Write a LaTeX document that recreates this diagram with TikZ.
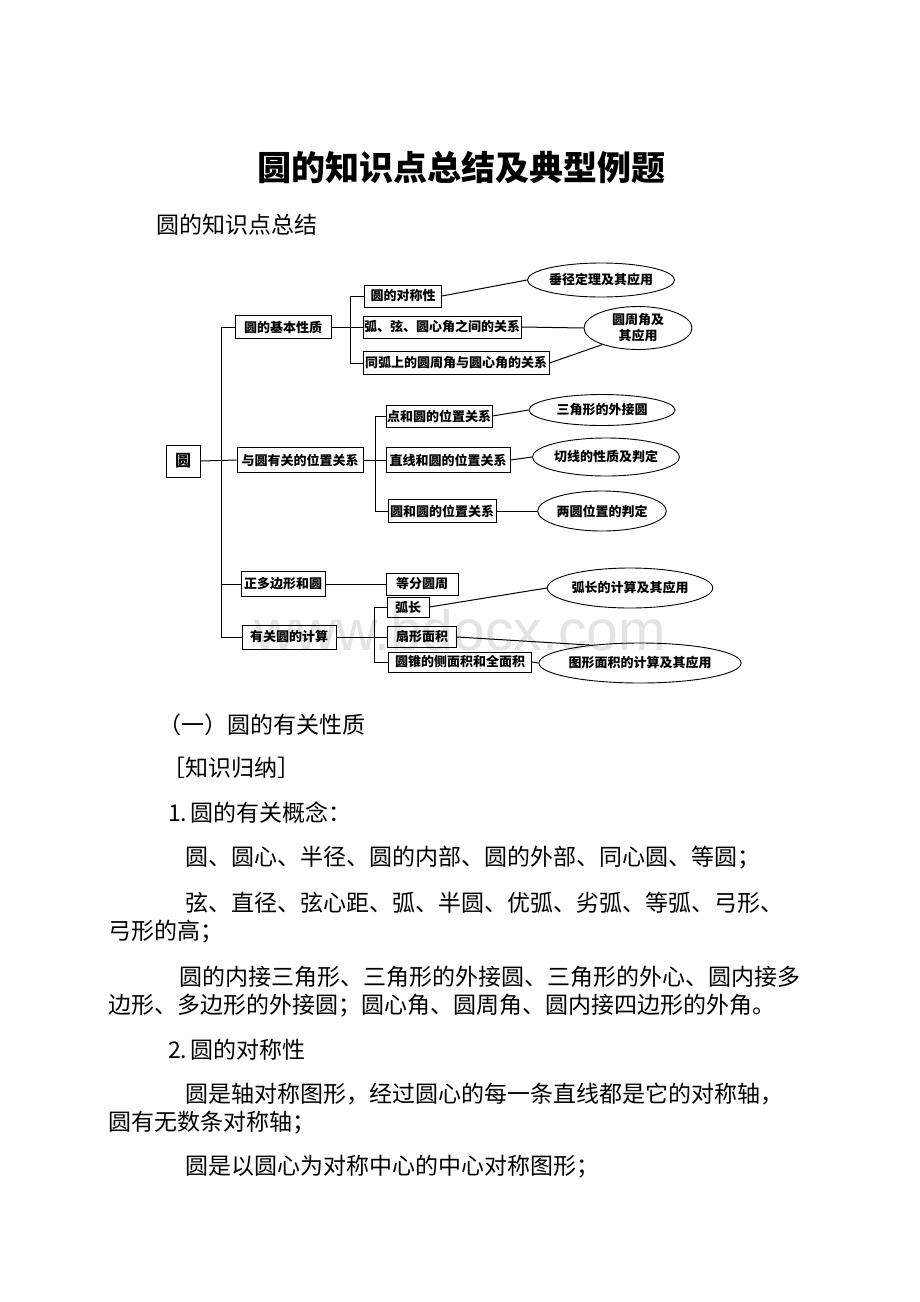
\documentclass[tikz,border=0pt]{standalone}
\usepackage{fontspec}
\setmainfont{Liberation Serif}
\newfontfamily\cjk{Noto Sans CJK SC}
\newfontfamily\wmfont{Liberation Sans}
\usetikzlibrary{shapes.geometric}
\tikzset{
  box/.style={draw, line width=1pt, inner sep=0pt, font=\cjk\bfseries\fontsize{13}{14}\selectfont},
  oval/.style={draw, ellipse, line width=0.9pt, inner sep=0pt, align=center, font=\cjk\bfseries\fontsize{13}{16}\selectfont},
  ln/.style={line width=1pt},
  body/.style={anchor=west, inner sep=0pt, font=\cjk\fontsize{23}{26}\selectfont},
}
\begin{document}
\begin{tikzpicture}[x=1pt,y=-1pt]
\path[fill=white,use as bounding box] (0,0) rectangle (920,1302);
% watermark
\node[font=\wmfont\fontsize{57}{60}\selectfont, text=black!11, inner sep=0pt] (wm) at (460,630) {www.bdocx.com};
% title
\node[font=\cjk\bfseries\fontsize{34}{40}\selectfont, inner sep=0pt] (title) at (461,168) {圆的知识点总结及典型例题};
\node[body] (sub) at (156,225) {圆的知识点总结};
% root
\node[box, minimum width=34, minimum height=32, font=\cjk\bfseries\fontsize{16}{18}\selectfont] (root) at (183,461) {圆};
% level 1
\node[box, minimum width=96, minimum height=23] (b1) at (283,327) {圆的基本性质};
\node[box, minimum width=126, minimum height=25] (b2) at (300,460) {与圆有关的位置关系};
\node[box, minimum width=84, minimum height=25] (b3) at (283,584) {正多边形和圆};
\node[box, minimum width=94, minimum height=24] (b4) at (289,637) {有关圆的计算};
\coordinate (t0) at (221,327);
\coordinate (t1) at (221,637);
\draw[ln] (b1.west) -- (t0) -- (t1) -- (b4.west);
\draw[ln] (root.east) -- (b2.west);
\draw[ln] (b3.west) -- (b3.west -| t0);
% group 1
\node[box, minimum width=77, minimum height=22] (c11) at (403,296) {圆的对称性};
\node[box, minimum width=158, minimum height=22] (c12) at (442,327) {弧、弦、圆心角之间的关系};
\node[box, minimum width=186, minimum height=23] (c13) at (456,363) {同弧上的圆周角与圆心角的关系};
\coordinate (j1) at (350,327);
\draw[ln] (b1.east) -- (c12.west);
\draw[ln] (c11.west) -- (c11.west -| j1) -- (c13.west -| j1) -- (c13.west);
\node[oval, minimum width=144, minimum height=34] (e11) at (601,280) {垂径定理及其应用};
\node[oval, minimum width=108, minimum height=43] (e12) at (638,328) {圆周角及\\其应用};
\draw[ln] (c11.east) -- (e11.west);
\draw[ln] (c12.east) -- (e12.west);
\draw[ln] (c13.east) -- (e12.205);
% group 2
\node[box, minimum width=106, minimum height=22] (d21) at (439,416) {点和圆的位置关系};
\node[box, minimum width=124, minimum height=25] (d22) at (448,460) {直线和圆的位置关系};
\node[box, minimum width=108, minimum height=23] (d23) at (442,511) {圆和圆的位置关系};
\coordinate (j2) at (375,460);
\draw[ln] (b2.east) -- (d22.west);
\draw[ln] (d21.west) -- (d21.west -| j2) -- (d23.west -| j2) -- (d23.west);
\node[oval, minimum width=146, minimum height=31] (f21) at (602,410) {三角形的外接圆};
\node[oval, minimum width=136, minimum height=38] (f22) at (606,457) {切线的性质及判定};
\node[oval, minimum width=127, minimum height=40] (f23) at (602,511) {两圆位置的判定};
\draw[ln] (d21.east) -- (f21.west);
\draw[ln] (d22.east) -- (f22.west);
\draw[ln] (d23.east) -- (f23.west);
% group 3
\node[box, minimum width=72, minimum height=22] (g31) at (422,584) {等分圆周};
\draw[ln] (b3.east) -- (g31.west);
% group 4
\node[box, minimum width=42, minimum height=20] (h41) at (408,607) {弧长};
\node[box, minimum width=69, minimum height=21] (h42) at (422,637) {扇形面积};
\node[box, minimum width=143, minimum height=20] (h43) at (460,662) {圆锥的侧面积和全面积};
\coordinate (j4) at (374,637);
\draw[ln] (b4.east) -- (h42.west);
\draw[ln] (h41.west) -- (h41.west -| j4) -- (h43.west -| j4) -- (h43.west);
\node[oval, minimum width=138, minimum height=40] (k41) at (630,588) {弧长的计算及其应用};
\node[oval, minimum width=155, minimum height=40] (k42) at (640,663) {图形面积的计算及其应用};
\draw[ln] (h41.east) -- (k41.west);
\draw[ln] (h42.east) -- (k42.160);
\draw[ln] (h43.east) -- (k42.west);
% body text
\node[body] (p1) at (158,725) {（一）圆的有关性质};
\node[body] (p2) at (162,768) {［知识归纳］};
\node[body] (p3) at (168,813) {1.\hspace{3pt}{\cjk 圆的有关概念：}};
\node[body] (p4) at (185,858) {圆、圆心、半径、圆的内部、圆的外部、同心圆、等圆；};
\node[body] (p5) at (185,903) {弦、直径、弦心距、弧、半圆、优弧、劣弧、等弧、弓形、};
\node[body] (p6) at (108,932) {弓形的高；};
\node[body] (p7) at (179,977) {圆的内接三角形、三角形的外接圆、三角形的外心、圆内接多};
\node[body] (p8) at (108,1006) {边形、多边形的外接圆；圆心角、圆周角、圆内接四边形的外角。};
\node[body] (p9) at (168,1050) {2.\hspace{3pt}{\cjk 圆的对称性}};
\node[body] (p10) at (185,1094) {圆是轴对称图形，经过圆心的每一条直线都是它的对称轴，};
\node[body] (p11) at (108,1123) {圆有无数条对称轴；};
\node[body] (p12) at (185,1167) {圆是以圆心为对称中心的中心对称图形；};
\end{tikzpicture}
\end{document}
